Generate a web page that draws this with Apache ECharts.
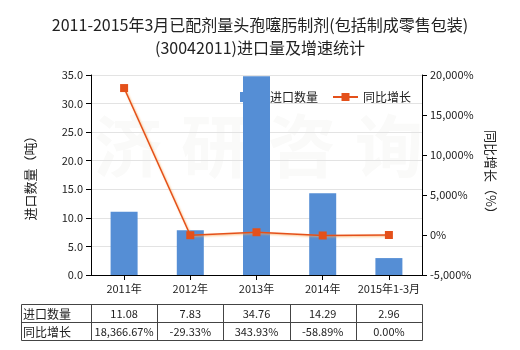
<!DOCTYPE html>
<html>
<head>
<meta charset="utf-8">
<script src="https://cdn.jsdelivr.net/npm/echarts@6/dist/echarts.min.js"></script>
<style>
html,body{margin:0;padding:0;background:#fff;}
#main{width:520px;height:350px;}
</style>
</head>
<body>
<div id="main"></div>
<script>
var titleLines = ['2011-2015年3月已配剂量头孢噻肟制剂(包括制成零售包装)', '(30042011)进口量及增速统计'];
var categories = ['2011年', '2012年', '2013年', '2014年', '2015年1-3月'];
var importQty = [11.08, 7.83, 34.76, 14.29, 2.96];
var growthPct = [18366.67, -29.33, 343.93, -58.89, 0.00];
var qtyLabels = ['11.08', '7.83', '34.76', '14.29', '2.96'];
var growthLabels = ['18,366.67%', '-29.33%', '343.93%', '-58.89%', '0.00%'];
var seriesNames = ['进口数量', '同比增长'];
var leftAxisName = '进口数量（吨）';
var rightAxisName = '同比增长（%）';
var watermark = '济研咨询';

var FONT = '"Noto Sans CJK SC", "Noto Sans", sans-serif';
var chart = echarts.init(document.getElementById('main'), null, {renderer: 'canvas'});

function fmtThousands(v) {
  var s = Math.abs(v).toString().replace(/\B(?=(\d{3})+(?!\d))/g, ',');
  return (v < 0 ? '-' : '') + s + '%';
}

var option = {
  backgroundColor: '#fff',
  animation: false,
  textStyle: {fontFamily: FONT},
  title: {
    text: titleLines.join('\n'),
    left: 'center',
    top: 8,
    textStyle: {fontFamily: FONT, fontSize: 16, fontWeight: 'normal', color: '#222', lineHeight: 23}
  },
  legend: {
    left: 235,
    top: 86,
    z: 1,
    itemWidth: 25,
    itemHeight: 10,
    itemGap: 14,
    textStyle: {fontFamily: FONT, fontSize: 12, color: '#222'},
    data: [
      {name: seriesNames[0], icon: 'rect'},
      {name: seriesNames[1]}
    ]
  },
  grid: {left: 91, right: 98, top: 75, bottom: 75},
  xAxis: {
    type: 'category',
    data: categories,
    axisLine: {lineStyle: {color: '#000'}},
    axisTick: {show: true, alignWithLabel: true, lineStyle: {color: '#000'}},
    axisLabel: {interval: 0, fontFamily: FONT, fontSize: 11, color: '#222', margin: 8}
  },
  yAxis: [
    {
      type: 'value',
      min: 0, max: 35, interval: 5,
      name: leftAxisName,
      nameLocation: 'middle',
      nameRotate: 90,
      nameGap: 54,
      nameTextStyle: {fontFamily: FONT, fontSize: 13, color: '#222'},
      axisLine: {show: true, lineStyle: {color: '#000'}},
      axisTick: {show: true, lineStyle: {color: '#000'}},
      axisLabel: {fontFamily: FONT, fontSize: 11, color: '#222', formatter: function (v) { return v.toFixed(1); }},
      splitLine: {show: true, lineStyle: {color: '#e3e3e3'}}
    },
    {
      type: 'value',
      min: -5000, max: 20000, interval: 5000,
      name: rightAxisName,
      nameLocation: 'middle',
      nameRotate: -90,
      nameGap: 62,
      nameTextStyle: {fontFamily: FONT, fontSize: 13, color: '#222'},
      axisLine: {show: true, lineStyle: {color: '#000'}},
      axisTick: {show: true, lineStyle: {color: '#000'}},
      axisLabel: {fontFamily: FONT, fontSize: 11, color: '#222', formatter: fmtThousands},
      splitLine: {show: false}
    }
  ],
  series: [
    {
      name: seriesNames[0],
      type: 'bar',
      data: importQty,
      barWidth: 27,
      itemStyle: {color: '#558ed5'},
      z: 2
    },
    {
      name: seriesNames[1],
      type: 'line',
      yAxisIndex: 1,
      data: growthPct,
      symbol: 'rect',
      symbolSize: 8,
      itemStyle: {color: '#e4501a'},
      lineStyle: {color: '#e4501a', width: 1.5, shadowColor: 'rgba(250,170,90,0.8)', shadowBlur: 2, shadowOffsetX: 1, shadowOffsetY: 1},
      z: 3
    }
  ]
};
chart.setOption(option);

// watermark + data table built from arrays via axis scale
var xs = categories.map(function (c) { return chart.convertToPixel({xAxisIndex: 0}, c); });
var band = xs[1] - xs[0];
var gridRight = xs[xs.length - 1] + band / 2;
var tblLeft = 21, tblTop = 304, rowH = 18;
var elements = [];
var wmChars = watermark.split('');
wmChars.forEach(function (ch, i) {
  elements.push({
    type: 'text', z: -10, silent: true,
    x: 128 + i * 87, y: 146,
    style: {text: ch, fontFamily: FONT, fontSize: 68, fontWeight: 'bold', fill: '#fafaf9', align: 'center', verticalAlign: 'middle'}
  });
});
var lineColor = '#444';
elements.push({type: 'rect', shape: {x: tblLeft + 0.5, y: tblTop + 0.5, width: gridRight - tblLeft, height: rowH * 2}, style: {fill: 'none', stroke: lineColor, lineWidth: 1}});
elements.push({type: 'line', shape: {x1: tblLeft, y1: tblTop + rowH + 0.5, x2: gridRight + 0.5, y2: tblTop + rowH + 0.5}, style: {stroke: lineColor, lineWidth: 1}});
for (var i = 0; i < categories.length; i++) {
  var bx = Math.round(xs[i] - band / 2) + 0.5;
  elements.push({type: 'line', shape: {x1: bx, y1: tblTop, x2: bx, y2: tblTop + rowH * 2}, style: {stroke: lineColor, lineWidth: 1}});
}
var rowLabels = seriesNames;
var rowVals = [qtyLabels, growthLabels];
for (var r = 0; r < 2; r++) {
  elements.push({type: 'text', x: tblLeft + 2, y: tblTop + rowH * r + rowH / 2 + 1,
    style: {text: rowLabels[r], fontFamily: FONT, fontSize: 12, fill: '#222', align: 'left', verticalAlign: 'middle'}});
  for (var c = 0; c < categories.length; c++) {
    elements.push({type: 'text', x: xs[c], y: tblTop + rowH * r + rowH / 2 + 1,
      style: {text: rowVals[r][c], fontFamily: FONT, fontSize: 11, fill: '#222', align: 'center', verticalAlign: 'middle'}});
  }
}
chart.setOption({graphic: {elements: elements}});
</script>
</body>
</html>
